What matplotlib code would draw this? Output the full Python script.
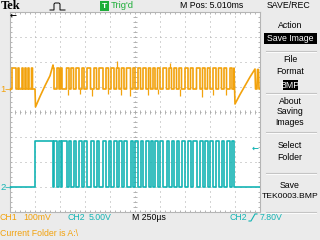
import matplotlib
matplotlib.use('Agg')
import matplotlib.pyplot as plt
from matplotlib.patches import Rectangle
from matplotlib.lines import Line2D

plt.rcParams['font.family'] = ['Liberation Sans', 'DejaVu Sans']
plt.rcParams['lines.scale_dashes'] = False

# ---------------- data (time in microseconds, amplitude in screen divisions) ----------------
time_per_div_us = 250
n_div_x = 10
n_div_y = 8

ch2_low, ch2_high = -3.0, -1.18
ch2_main_edges = [250, 430]
ch2_burst_edges = [440, 470, 490, 505, 520, 565, 590, 610, 635, 660, 690, 720, 740, 770,
                   805, 840, 865, 890, 930, 960, 985, 1010, 1040, 1065, 1090, 1115, 1140,
                   1165, 1205, 1230, 1250, 1280, 1305, 1330, 1360, 1385, 1405, 1430, 1450,
                   1475, 1500, 1530, 1565, 1590, 1615, 1640, 1665, 1690, 1715, 1750, 1780,
                   1805, 1830, 1865, 1900, 1925, 1950, 1975, 2000, 2030, 2060, 2085, 2115,
                   2140, 2165, 2200, 2220, 2240]

ch1_low, ch1_high = 0.92, 1.76
ch1_pre_edges = [20, 60, 80, 90, 120, 130, 150, 160, 180, 190, 215, 225]
ch1_ramp1_t = [250, 255, 300, 350, 400, 430]
ch1_ramp1_v = [0.92, 0.2, 0.62, 1.05, 1.45, 1.88]
ch1_ramp2_t = [2240, 2250, 2300, 2350, 2400, 2450]
ch1_ramp2_v = [1.76, 0.32, 0.7, 1.05, 1.4, 1.72]
ch1_tail_t = [2455, 2470, 2475, 2485, 2490, 2500]
ch1_tail_v = [0.92, 0.92, 1.7, 1.7, 0.92, 0.92]
ch1_spike_t = [575, 700, 815, 975, 1070, 1110, 1195, 1380, 1480, 1600, 1700, 1920, 2030, 2160]
ch1_spike_v = [0.66, 0.7, 0.64, 0.7, 2.05, 0.66, 0.62, 0.68, 0.7, 1.95, 0.64, 0.6, 0.68, 0.66]

ORANGE = '#f2a20c'
TEAL = '#14b4b4'
GREEN = '#1fae3a'
BG = '#ebebeb'

W, H = 320, 240


def fx(px):
    return px / W


def fy(py):
    return 1 - py / H


def steps(t0, t1, edges, lo, hi, start_high):
    t = [t0]
    v = [hi if start_high else lo]
    state = start_high
    for e in edges:
        cur = hi if state else lo
        state = not state
        nxt = hi if state else lo
        t += [e, e]
        v += [cur, nxt]
    t.append(t1)
    v.append(hi if state else lo)
    return t, v


fig = plt.figure(figsize=(3.2, 2.4), dpi=100, facecolor=BG)

# ---------------- graticule ----------------
ax = fig.add_axes([fx(10), fy(212), 250 / W, 200 / H])
ax.set_facecolor('white')
xmax = time_per_div_us * n_div_x
ax.set_xlim(0, xmax)
ax.set_ylim(-n_div_y / 2, n_div_y / 2)
ax.set_xticks([])
ax.set_yticks([])
for s in ax.spines.values():
    s.set_color('#b5b5b5')
    s.set_linewidth(0.8)

dot = (0, (0.72, 2.88))
for i in range(1, n_div_x):
    ax.axvline(i * time_per_div_us, color='#a8a8a8', lw=0.7, linestyle=dot, zorder=1)
for j in range(-n_div_y // 2 + 1, n_div_y // 2):
    ax.axhline(j, color='#a8a8a8', lw=0.7, linestyle=dot, zorder=1)

minor_x = [k * time_per_div_us / 5 for k in range(1, n_div_x * 5)]
minor_y = [-4 + k * 0.2 for k in range(1, n_div_y * 5)]
ax.plot(minor_x, [0] * len(minor_x), ls='none', marker='|', ms=2.4, mew=0.6, color='#a8a8a8', zorder=1)
ax.plot([xmax / 2] * len(minor_y), minor_y, ls='none', marker='_', ms=2.4, mew=0.6, color='#a8a8a8', zorder=1)
ax.plot(minor_x, [-3.94] * len(minor_x), ls='none', marker='|', ms=2.0, mew=0.6, color='#a8a8a8', zorder=1)
ax.plot(minor_x, [3.94] * len(minor_x), ls='none', marker='|', ms=2.0, mew=0.6, color='#a8a8a8', zorder=1)
ax.plot([xmax * 0.004] * len(minor_y), minor_y, ls='none', marker='_', ms=2.0, mew=0.6, color='#a8a8a8', zorder=1)
ax.plot([xmax * 0.996] * len(minor_y), minor_y, ls='none', marker='_', ms=2.0, mew=0.6, color='#a8a8a8', zorder=1)

# ---------------- channel 2 ----------------
t2, v2 = steps(0, xmax, ch2_main_edges + ch2_burst_edges, ch2_low, ch2_high, False)
ax.plot(t2, v2, color=TEAL, lw=1.2, zorder=3)

# ---------------- channel 1 ----------------
ta, va = steps(0, ch1_ramp1_t[0], ch1_pre_edges, ch1_low, ch1_high, False)
tb, vb = steps(ch1_ramp1_t[-1], ch1_ramp2_t[0], ch2_burst_edges, ch1_low, ch1_high, True)
t1 = ta + ch1_ramp1_t + tb + ch1_ramp2_t + ch1_tail_t
v1 = va + ch1_ramp1_v + vb + ch1_ramp2_v + ch1_tail_v
ax.plot(t1, v1, color=ORANGE, lw=1.2, zorder=4)
spike_base = [ch1_low if v < ch1_low else ch1_high for v in ch1_spike_v]
ax.vlines(ch1_spike_t, spike_base, ch1_spike_v, color=ORANGE, lw=0.9, zorder=4)

# ---------------- markers ----------------
fs = 6.3
fig.text(fx(0), fy(89), '1', color=ORANGE, fontsize=6.8, va='center', ha='left')
fig.text(fx(4.5), fy(89), '→', color=ORANGE, fontsize=6, va='center', ha='left', family='DejaVu Sans')
fig.text(fx(0), fy(187), '2', color=TEAL, fontsize=6.8, va='center', ha='left')
fig.text(fx(4.5), fy(187), '→', color=TEAL, fontsize=6, va='center', ha='left', family='DejaVu Sans')
fig.text(fx(252), fy(148), '←', color=TEAL, fontsize=6, va='center', ha='left', family='DejaVu Sans', fontweight='bold')
fig.text(fx(10), fy(15.5), '←', color='black', fontsize=6, va='center', ha='left', family='DejaVu Sans', fontweight='bold')

# ---------------- top bar ----------------
fig.text(fx(1), fy(6), 'Tek', fontsize=9, fontweight='bold', family='Liberation Serif', va='center', ha='left')
icon_x = [50, 54, 54, 55, 59, 60, 60, 65]
icon_y = [10, 10, 4, 3, 3, 4, 10, 10]
fig.add_artist(Line2D([fx(x) for x in icon_x], [fy(y) for y in icon_y], color='black', lw=0.7))
fig.add_artist(Rectangle((fx(100), fy(10.5)), 9 / W, 9.5 / H, facecolor=GREEN, edgecolor='none'))
fig.text(fx(104.5), fy(6), 'T', color='white', fontsize=6, fontweight='bold', va='center', ha='center')
fig.text(fx(111), fy(6), "Trig'd", color=GREEN, fontsize=fs + 0.5, va='center', ha='left')
fig.text(fx(180), fy(6), 'M Pos: 5.010ms', color='black', fontsize=fs, va='center', ha='left')
fig.text(fx(289), fy(6), 'SAVE/REC', color='black', fontsize=fs, va='center', ha='center')

# ---------------- side menu ----------------
cx = 290
fig.text(fx(cx), fy(26), 'Action', fontsize=fs, va='center', ha='center')
fig.add_artist(Rectangle((fx(264), fy(44)), 53 / W, 11 / H, facecolor='black', edgecolor='none'))
fig.text(fx(cx), fy(38.5), 'Save Image', color='white', fontsize=fs, va='center', ha='center')
fig.text(fx(cx), fy(59), 'File', fontsize=fs, va='center', ha='center')
fig.text(fx(cx), fy(71), 'Format', fontsize=fs, va='center', ha='center')
fig.add_artist(Rectangle((fx(282.5), fy(90)), 15 / W, 10.5 / H, facecolor='black', edgecolor='none'))
fig.text(fx(cx), fy(85), 'BMP', color='white', fontsize=fs, va='center', ha='center')
fig.text(fx(cx), fy(101), 'About', fontsize=fs, va='center', ha='center')
fig.text(fx(cx), fy(112), 'Saving', fontsize=fs, va='center', ha='center')
fig.text(fx(cx), fy(123), 'Images', fontsize=fs, va='center', ha='center')
fig.text(fx(cx), fy(146), 'Select', fontsize=fs, va='center', ha='center')
fig.text(fx(cx), fy(158), 'Folder', fontsize=fs, va='center', ha='center')
fig.text(fx(cx), fy(185), 'Save', fontsize=fs, va='center', ha='center')
fig.text(fx(cx), fy(197), 'TEK0003.BMP', fontsize=fs - 0.2, va='center', ha='center')
for sy in [51, 93, 132, 173, 212]:
    fig.add_artist(Line2D([fx(266), fx(316)], [fy(sy), fy(sy)], color='#c4c4c4', lw=0.8))
    fig.add_artist(Line2D([fx(266), fx(316)], [fy(sy + 1), fy(sy + 1)], color='white', lw=0.6))

# ---------------- bottom status ----------------
by = 217.5
fig.text(fx(0), fy(by), 'CH1', color=ORANGE, fontsize=fs, va='center', ha='left')
fig.text(fx(23), fy(by), '100mV', color=ORANGE, fontsize=fs, va='center', ha='left')
fig.text(fx(67), fy(by), 'CH2', color=TEAL, fontsize=fs, va='center', ha='left')
fig.text(fx(89), fy(by), '5.00V', color=TEAL, fontsize=fs, va='center', ha='left')
fig.text(fx(132), fy(by), 'M 250µs', color='black', fontsize=fs, va='center', ha='left')
fig.text(fx(230), fy(by), 'CH2', color=TEAL, fontsize=fs, va='center', ha='left')
edge_x = [249, 251, 255, 257]
edge_y = [221, 221, 214, 214]
fig.add_artist(Line2D([fx(x) for x in edge_x], [fy(y) for y in edge_y], color=TEAL, lw=0.8))
fig.text(fx(260), fy(by), '7.80V', color=TEAL, fontsize=fs, va='center', ha='left')
fig.text(fx(0), fy(233), 'Current Folder is A:\\', color=ORANGE, fontsize=fs, va='center', ha='left')

fig.savefig('out.png', dpi=100, facecolor=BG)
